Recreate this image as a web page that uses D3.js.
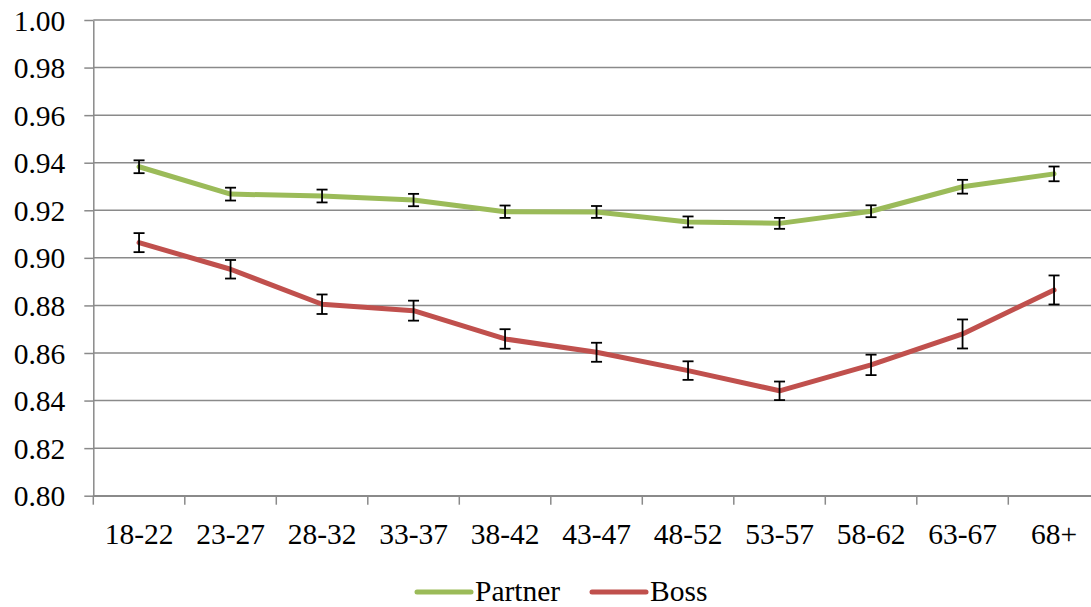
<!DOCTYPE html>
<html>
<head>
<meta charset="utf-8">
<script src="https://cdn.jsdelivr.net/npm/d3@7"></script>
<style>
  html, body { margin: 0; padding: 0; background: #fff; }
  svg { display: block; }
</style>
</head>
<body>
<svg id="chart" width="1091" height="607"></svg>
<script>
// Age groups on the horizontal axis
const categories = ["18-22", "23-27", "28-32", "33-37", "38-42", "43-47", "48-52", "53-57", "58-62", "63-67", "68+"];

// Series means
const partnerValues = [0.9383, 0.9268, 0.9260, 0.9243, 0.9194, 0.9193, 0.9151, 0.9145, 0.9196, 0.9299, 0.9353];
const bossValues    = [0.9064, 0.8952, 0.8805, 0.8778, 0.8659, 0.8603, 0.8526, 0.8441, 0.8550, 0.8680, 0.8865];

// Half-widths of the error bars
const partnerErrors = [0.0027, 0.0027, 0.0027, 0.0026, 0.0026, 0.0025, 0.0023, 0.0023, 0.0025, 0.0029, 0.0031];
const bossErrors    = [0.0040, 0.0039, 0.0041, 0.0042, 0.0041, 0.0040, 0.0039, 0.0039, 0.0043, 0.0061, 0.0061];

const yTicks = [0.80, 0.82, 0.84, 0.86, 0.88, 0.90, 0.92, 0.94, 0.96, 0.98, 1.00];

const seriesNames = ["Partner", "Boss"];
const seriesColors = ["#9BBB59", "#C0504D"];

const series = [
  { name: seriesNames[0], color: seriesColors[0], values: partnerValues, errors: partnerErrors },
  { name: seriesNames[1], color: seriesColors[1], values: bossValues, errors: bossErrors }
];

const serifFont = "'Liberation Serif', 'DejaVu Serif', serif";
const svg = d3.select("#chart");
const plotLeft = 93.3, plotRight = 1099.8, plotTop = 20, plotBottom = 495.7;
const gridColor = "#8a8a8a";
const fontSize = 29.5;

const x = d3.scaleBand().domain(categories).range([plotLeft, plotRight]).padding(0);
const y = d3.scaleLinear().domain([0.80, 1.00]).range([plotBottom, plotTop]);

// Horizontal gridlines
svg.append("g")
  .selectAll("line")
  .data(yTicks)
  .join("line")
  .attr("x1", plotLeft).attr("x2", plotRight)
  .attr("y1", d => y(d)).attr("y2", d => y(d))
  .attr("stroke", gridColor).attr("stroke-width", 1.5);

// Y axis
const yAxis = svg.append("g")
  .attr("transform", `translate(${plotLeft},0)`)
  .call(d3.axisLeft(y).tickValues(yTicks).tickFormat(d3.format(".2f")).tickSize(9).tickSizeOuter(0).tickPadding(19));
yAxis.attr("font-family", serifFont).attr("font-size", fontSize);
yAxis.select(".domain").attr("stroke", gridColor).attr("stroke-width", 1.5);
yAxis.selectAll(".tick line").attr("stroke", gridColor).attr("stroke-width", 1.5);
yAxis.selectAll(".tick text")
  .style("font-family", serifFont).style("font-size", fontSize + "px")
  .attr("fill", "#000").attr("dy", "0.34em");

// X axis: labels centred in each band, ticks at band boundaries
const xAxis = svg.append("g")
  .attr("transform", `translate(0,${plotBottom})`)
  .call(d3.axisBottom(x).tickSize(0).tickSizeOuter(0).tickPadding(27));
xAxis.attr("font-family", serifFont).attr("font-size", fontSize);
xAxis.select(".domain").attr("stroke", gridColor).attr("stroke-width", 1.5);
xAxis.selectAll(".tick text")
  .style("font-family", serifFont).style("font-size", fontSize + "px").attr("fill", "#000");

const boundaries = categories.map(c => x(c)).concat([x(categories[categories.length - 1]) + x.bandwidth()]);
svg.append("g")
  .selectAll("line")
  .data(boundaries)
  .join("line")
  .attr("x1", d => d).attr("x2", d => d)
  .attr("y1", plotBottom).attr("y2", plotBottom + 9)
  .attr("stroke", gridColor).attr("stroke-width", 1.5);

const cx = c => x(c) + x.bandwidth() / 2;

// Series lines
const line = d3.line().x(d => cx(d.cat)).y(d => y(d.v));
series.forEach(s => {
  const pts = categories.map((c, i) => ({ cat: c, v: s.values[i] }));
  svg.append("path")
    .datum(pts)
    .attr("d", line)
    .attr("fill", "none")
    .attr("stroke", s.color)
    .attr("stroke-width", 5)
    .attr("stroke-linejoin", "round")
    .attr("stroke-linecap", "round");
});

// Error bars
const capHalf = 5.5;
series.forEach(s => {
  const g = svg.append("g").attr("stroke", "#000").attr("stroke-width", 1.8);
  categories.forEach((c, i) => {
    const xc = cx(c);
    const y1 = y(s.values[i] + s.errors[i]);
    const y2 = y(s.values[i] - s.errors[i]);
    g.append("line").attr("x1", xc).attr("x2", xc).attr("y1", y1).attr("y2", y2);
    g.append("line").attr("x1", xc - capHalf).attr("x2", xc + capHalf).attr("y1", y1).attr("y2", y1);
    g.append("line").attr("x1", xc - capHalf).attr("x2", xc + capHalf).attr("y1", y2).attr("y2", y2);
  });
});

// Legend
const legendY = 592;
const legendItems = [
  { name: seriesNames[0], color: seriesColors[0], x0: 417, x1: 471, tx: 475 },
  { name: seriesNames[1], color: seriesColors[1], x0: 592, x1: 646, tx: 650 }
];
const lg = svg.append("g");
legendItems.forEach(it => {
  lg.append("line")
    .attr("x1", it.x0).attr("x2", it.x1)
    .attr("y1", legendY).attr("y2", legendY)
    .attr("stroke", it.color).attr("stroke-width", 5).attr("stroke-linecap", "round");
  lg.append("text")
    .attr("x", it.tx).attr("y", legendY + 9)
    .style("font-family", serifFont).style("font-size", fontSize + "px")
    .attr("fill", "#000")
    .text(it.name);
});
</script>
</body>
</html>
